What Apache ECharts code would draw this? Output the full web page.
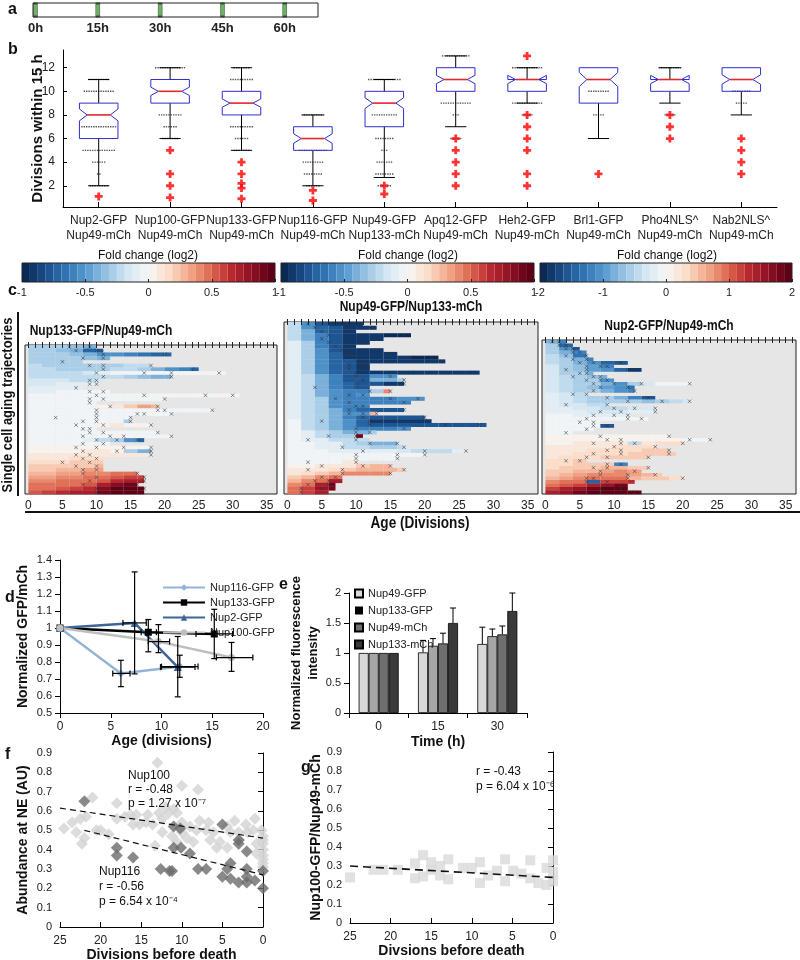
<!DOCTYPE html>
<html>
<head>
<meta charset="utf-8">
<script src="https://cdn.jsdelivr.net/npm/echarts@6/dist/echarts.min.js"></script>
<style>html,body{margin:0;padding:0;background:#fff}#c{width:800px;height:960px}</style>
</head>
<body>
<div id="c"></div>
<script>
var FF = 'Liberation Sans, Arial, Helvetica, sans-serif';

// ---- a: time line
var timeTicks = [0, 15, 30, 45, 60];

// ---- b: divisions within 15 h
var boxCats = ['Nup2-GFP\nNup49-mCh', 'Nup100-GFP\nNup49-mCh', 'Nup133-GFP\nNup49-mCh', 'Nup116-GFP\nNup49-mCh',
  'Nup49-GFP\nNup133-mCh', 'Apq12-GFP\nNup49-mCh', 'Heh2-GFP\nNup49-mCh', 'Brl1-GFP\nNup49-mCh',
  'Pho4NLS^\nNup49-mCh', 'Nab2NLS^\nNup49-mCh'];
// [cat, low whisker, q1, median, q3, high whisker, notch half height]
var boxStats = [
  [0, 2, 6, 8, 9, 11, 0.5],
  [1, 6, 9, 10, 11, 12, 0.35],
  [2, 5, 8, 9, 10, 12, 0.35],
  [3, 2, 5, 6, 7, 8, 0.4],
  [4, 2.7, 7, 9, 10, 11, 0.45],
  [5, 7, 10, 11, 12, 13, 0.35],
  [6, 9, 10, 11, 11, 12, 0.35],
  [7, 6, 9, 11, 12, 12, 0.6],
  [8, 9, 10, 11, 11, 12, 0.35],
  [9, 8, 10, 11, 12, 12, 0.4]
];
// [cat, level, number of cells]
var boxDots = [
  [0, 11, 9], [0, 10, 13], [0, 7, 15], [0, 5, 14], [0, 4, 6], [0, 3, 2], [0, 2, 8],
  [1, 12, 13], [1, 8, 10], [1, 7, 6], [1, 6, 7],
  [2, 12, 7], [2, 11, 10], [2, 7, 10], [2, 6, 6], [2, 5, 7],
  [3, 8, 10], [3, 5, 12], [3, 4, 9], [3, 3, 8], [3, 2, 6],
  [4, 11, 14], [4, 8, 11], [4, 6, 8], [4, 5, 3], [4, 4, 7], [4, 3, 8], [4, 2, 6],
  [5, 13, 12], [5, 9, 13], [5, 8, 3], [5, 6, 5],
  [6, 12, 13], [6, 9, 13], [6, 8, 5],
  [7, 10, 9], [7, 8, 5],
  [8, 12, 10], [8, 8, 5],
  [9, 10, 8], [9, 9, 5]
];
var boxOutliers = [
  [0, 1.1], [1, 5], [1, 3], [1, 2], [1, 1], [2, 4], [2, 3], [2, 2.2], [2, 1.8], [2, 0.9],
  [3, 1.6], [3, 0.75], [4, 2], [4, 1.3],
  [5, 6], [5, 5], [5, 4], [5, 3], [5, 2], [6, 13], [6, 8], [6, 7], [6, 6], [6, 5], [6, 3], [6, 2],
  [7, 3], [8, 8], [8, 7], [8, 6], [9, 6], [9, 5], [9, 4], [9, 3]
];

// ---- c: single cell trajectories, [death age, fold change per 2 divisions, x marks]
var heatLabels = [0, 5, 10, 15, 20, 25, 30, 35];
var heatTicks = [0,1,2,3,4,5,6,7,8,9,10,11,12,13,14,15,16,17,18,19,20,21,22,23,24,25,26,27,28,29,30,31,32,33,34,35,36];
var cmap = ['#0b2955', '#1b4f8c', '#2f75b5', '#5a9bd0', '#9cc6e3', '#d4e6f2', '#f7f7f7',
  '#fbdcc9', '#f3a88a', '#de6a52', '#bd2a30', '#900f24', '#5e0016'];
var p1Rows = [
  [10, [-.3, -.3, -.3, -.35, -.4], [6, 9]],
  [11, [-.3, -.3, -.35, -.4, -.7, -.8], [7, 10]],
  [21, [-.3, -.3, -.3, -.35, -.4, -.5, -.55, -.6, -.65, -.7, -.7], [11, 20]],
  [12, [-.25, -.25, -.3, -.3, -.35, -.4], [8, 11]],
  [8, [-.25, -.25, -.25, -.3], [5]],
  [18, [-.2, -.25, -.25, -.3, -.3, -.3, -.3, -.2, -.2], [9, 11, 18]],
  [25, [-.2, -.2, -.25, -.3, -.3, -.3, -.2, -.2, -.3, -.4, -.5, -.6, -.7], [11, 24]],
  [29, [-.2, -.2, -.2, -.2, -.15, -.1, -.05, 0, 0, .02, 0, 0, 0, 0, 0], [10, 17, 21, 28]],
  [21, [-.2, -.2, -.2, -.2, -.2, -.2, -.2, -.3, -.35, -.4, -.4], [11, 21]],
  [11, [-.15, -.15, -.15, -.2, -.2, -.15], [9, 10]],
  [10, [-.15, -.15, -.1, -.1, -.1], [9, 10]],
  [8, [-.1, -.1, -.1, -.1], [7]],
  [12, [-.1, -.1, -.05, -.05, -.05, -.05], [9, 11]],
  [31, [-.05, -.05, 0, 0, 0, 0, 0, 0, 0, 0, 0, 0, 0, 0, .02, .02], [10, 17, 26, 30]],
  [20, [0, 0, 0, 0, 0, 0, 0, 0, 0, 0], [9, 11, 20]],
  [10, [0, 0, 0, 0, 0], [9]],
  [19, [0, 0, 0, 0, 0, .05, .1, .2, .35, .3], [12, 19]],
  [27, [0, 0, 0, 0, 0, 0, 0, 0, 0, 0, 0, 0, 0, 0], [10, 19, 20, 27]],
  [21, [0, 0, 0, 0, 0, 0, 0, 0, 0, 0, 0], [10, 16, 17, 21]],
  [15, [0, 0, 0, 0, 0, 0, 0, -.05], [4, 10, 15]],
  [15, [0, 0, 0, 0, 0, 0, 0, -.3], [8, 10, 15]],
  [18, [0, 0, 0, 0, 0, .05, .1, .05, .05], [7, 11, 18]],
  [10, [0, 0, 0, 0, 0], [8, 9]],
  [19, [0, 0, 0, 0, 0, 0, 0, 0, 0, 0], [9, 11, 19]],
  [21, [0, 0, 0, 0, 0, 0, .05, .05, 0, 0, 0], [8, 12, 14, 21]],
  [17, [0, 0, 0, 0, -.1, -.2, -.3, -.5, -.7], [10, 13, 16]],
  [12, [0, 0, 0, 0, 0, 0], [8, 11]],
  [18, [.02, .02, .05, .05, .05, .05, .05, .05, .05], [7, 10, 14, 18]],
  [18, [.05, .05, .05, .05, .1, .1, .05, -.3, -.4], [8, 13, 18]],
  [18, [.1, .1, .1, .1, .1, .1, .1, .1, .1], [7, 9, 18]],
  [11, [.12, .12, .12, .15, .15, .15], [8, 10]],
  [11, [.15, .15, .15, .2, .2, .2], [5, 9]],
  [11, [.2, .2, .2, .25, .25, .3], [7, 10]],
  [11, [.25, .25, .3, .3, .35, .35], [8, 10]],
  [16, [.3, .3, .35, .35, .4, .4, .45, .5], [8, 16]],
  [17, [.35, .35, .4, .4, .45, .5, .55, .6, .6], [10, 17]],
  [17, [.4, .4, .45, .5, .5, .55, .65, .7, .7], [9, 17]],
  [16, [.45, .45, .5, .5, .55, .7, .85, .9], [8, 16]],
  [17, [.5, .5, .55, .6, .65, .85, .95, .95, .95], [10, 17]],
  [17, [.55, .6, .65, .7, .75, .9, 1, 1, 1], [10]]
];
var p2Rows = [
  [11, [-.2, -.5, -.8, -.9, -.9, -.9], [3, 10]],
  [13, [-.2, -.5, -.7, -.8, -.9, -.9, -.9], [4, 12]],
  [10, [-.2, -.4, -.7, -.8, -.9], [5, 9]],
  [18, [-.2, -.4, -.6, -.8, -.9, -.9, -.9, -.95, -.95], [6, 17]],
  [14, [-.2, -.4, -.6, -.8, -.9, -.9, -.9], [5, 13]],
  [12, [-.1, -.3, -.6, -.8, -.9, -.9], [6, 11]],
  [10, [-.1, -.3, -.6, -.8, -.9], [7, 9]],
  [14, [-.1, -.3, -.5, -.8, -.9, -.9, -.9], [8, 13]],
  [16, [-.1, -.3, -.5, -.7, -.9, -.9, -.9, -.9], [9, 15]],
  [22, [-.1, -.3, -.5, -.7, -.9, -.9, -.9, -.9, -.9, -.95, -.95], [10, 18, 21]],
  [23, [-.1, -.3, -.5, -.7, -.8, -.9, -.9, -.9, -.9, -.9, -.9, -.9], [11, 22]],
  [12, [-.1, -.3, -.5, -.7, -.8, -.9], [9, 11]],
  [12, [-.1, -.3, -.5, -.7, -.8, -.9], [9, 11]],
  [28, [-.1, -.3, -.5, -.7, -.8, -.9, -.9, -.9, -.9, -.9, -.9, -.9, -.9, -.9], [10, 18, 27]],
  [16, [-.1, -.2, -.4, -.6, -.8, -.8, -.5, -.5], [10, 15]],
  [17, [-.1, -.2, -.4, -.6, -.8, -.8, -.4, -.4, -.3], [11, 17]],
  [17, [-.1, -.2, -.4, -.6, -.7, -.8, -.8, -.9, -.9], [10, 17]],
  [12, [-.1, -.2, -.4, -.6, -.7, -.8], [4, 10]],
  [15, [-.1, -.2, -.4, -.5, -.6, -.6, -.3, .4], [12, 15]],
  [12, [-.1, -.2, -.4, -.5, -.6, -.5], [9, 11]],
  [20, [-.1, -.2, -.3, -.5, -.6, -.6, -.6, -.6, -.5, -.5], [7, 15, 19]],
  [18, [-.1, -.2, -.3, -.5, -.6, -.6, -.6, -.6, -.6], [9, 17]],
  [12, [-.1, -.2, -.3, -.5, -.6, -.6], [10, 11]],
  [17, [-.1, -.2, -.3, -.4, -.6, -.7, -.8, -.8, -.8], [9, 17]],
  [13, [-.1, -.2, -.3, -.4, -.5, -.5, .3], [9, 11, 13]],
  [20, [-.1, -.2, -.3, -.4, -.6, -.7, -.8, -.8, -.8, -.8], [11, 20]],
  [21, [-.05, -.2, -.3, -.4, -.5, -.7, -.9, -.9, -.9, -.9, -.9], [5, 12, 20]],
  [29, [-.05, -.2, -.3, -.4, -.5, -.7, -.8, -.8, -.8, -.8, -.8, -.8, -.8, -.8, -.8], [12, 23, 28]],
  [18, [-.05, -.2, -.3, -.4, -.5, -.6, -.6, -.6, -.5], [10, 17]],
  [13, [-.05, -.1, -.2, -.3, -.4, -.4, -.3], [10, 12]],
  [11, [-.05, -.1, -.2, -.3, -.3, .9], [6, 10]],
  [12, [-.05, -.1, -.1, -.2, -.2, -.2], [3, 10]],
  [16, [0, -.05, -.1, -.1, -.2, -.3, -.4, -.4], [12, 16]],
  [17, [0, -.05, -.1, -.1, -.2, -.2, -.3, -.3, -.2], [8, 17]],
  [26, [0, 0, -.05, -.1, -.1, -.1, -.1, -.1, -.15, -.2, -.2, -.2, -.1], [11, 20, 26]],
  [20, [0, 0, 0, -.05, -.05, -.05, 0, 0, 0, 0], [10, 16, 20]],
  [16, [0, 0, 0, 0, 0, 0, 0, 0], [10, 16]],
  [10, [0, 0, 0, 0, .1], [3, 10]],
  [15, [.05, .05, .1, .1, .1, .2, .3, .3], [5, 11, 15]],
  [17, [.1, .1, .1, .15, .2, .3, .3, .3, .2], [3, 8, 17]],
  [15, [.1, .15, .2, .3, .4, .4, .4, .4], [8, 15]],
  [8, [.2, .3, .4, .5], [5, 7]],
  [8, [.3, .4, .5, .7], [4, 6]],
  [7, [.4, .5, .7, .9], [3, 6]],
  [7, [.5, .6, .8, .9], [2, 5]],
  [6, [.5, .6, .7], [2]]
];
var p3Rows = [
  [3, [-.8, -1.2], [1, 2]],
  [4, [-.6, -1.4], [2, 3]],
  [5, [-.5, -1, -1.5], [3, 4]],
  [6, [-.5, -.8, -1.2], [4, 5]],
  [6, [-.4, -.7, -1.3], [3, 6]],
  [7, [-.4, -.6, -.8, -1.2], [4, 6]],
  [12, [-.4, -.6, -.8, -1, -1.4, -1.6], [5, 7, 11]],
  [10, [-.3, -.5, -.7, -.9, -1.2], [6, 8, 9]],
  [14, [-.3, -.5, -.7, -.9, -1.1, -1.4, -1.8], [3, 6, 12, 13]],
  [7, [-.3, -.5, -.6, -.8], [5, 6]],
  [9, [-.3, -.4, -.6, -.7, -.8], [4, 7, 8]],
  [10, [-.3, -.4, -.5, -.6, -1], [6, 8, 9]],
  [21, [-.3, -.4, -.5, -.6, -.8, -1, -.6, -.3, -.1, 0, 0], [7, 10, 14, 21]],
  [13, [-.3, -.4, -.5, -.7, -.9, -1.1, -1.3], [8, 12]],
  [13, [-.3, -.4, -.5, -.6, -.8, -1, -1.2], [7, 13]],
  [6, [-.2, -.3, -.4], [4, 6]],
  [16, [-.2, -.3, -.4, -.5, -.6, -.8, -1.2, -1.5], [9, 15]],
  [21, [-.2, -.3, -.4, -.5, -.5, -.5, -.6, -.7, -.6, -.4, -.3], [12, 17, 21]],
  [9, [-.2, -.3, -.3, -.4, -.4], [3, 9]],
  [16, [-.2, -.2, -.3, -.3, -.4, -.4, -.3, -.3], [10, 13, 16]],
  [16, [-.2, -.2, -.2, -.3, -.3, -.3, -.2, -.2], [8, 11, 16]],
  [12, [-.1, -.1, -.2, -.2, -.2, -.2], [7, 10, 12]],
  [15, [-.1, -.1, -.1, -.1, -.1, -.1, 0, 0], [6, 12, 14]],
  [8, [0, 0, 0, 0], [5, 7]],
  [10, [0, 0, 0, 0, -1.6], [7, 9]],
  [7, [0, 0, 0, 0], [6]],
  [4, [0, 0], [3]],
  [18, [.05, .05, .05, .1, .1, .1, .1, .1, .1], [8, 18]],
  [24, [.1, .1, .1, .1, .1, .1, .1, .05, .05, .05, 0, 0], [9, 11, 21, 24]],
  [20, [.1, .1, .15, .2, .2, .2, -.4, .2, .3, .3], [7, 11, 13, 20]],
  [16, [.15, .15, .2, .2, .25, .3, .3, .3], [10, 16]],
  [18, [.2, .2, .25, .3, .3, .3, .3, .4, .4], [9, 11, 18]],
  [19, [.2, .25, .3, .3, .3, .35, .4, .4, .4, .4], [7, 11, 18]],
  [15, [.25, .3, .3, .35, .4, .4, .4, .4], [6, 9, 15]],
  [6, [.3, .35, .4], [3, 5]],
  [12, [.3, .35, .4, .5, .5, -1.2], [9, 11]],
  [15, [.35, .4, .5, .5, .6, .6, .5, .5], [7, 9, 15]],
  [14, [.4, .5, .6, .6, .7, .8, .7], [8, 13]],
  [17, [.5, .6, .7, .8, .8, .8, .7, .6, .5], [8, 12, 16]],
  [20, [.6, .7, .8, .9, 1, 1, .6, .5, .4, .3], [6, 7, 12, 20]],
  [13, [.8, .9, 1, -1.4, 1.2, 1.2, 1.3], [6, 9]],
  [12, [1, 1.1, 1.2, 1.4, 1.6, 1.8], [9, 11]],
  [12, [1.2, 1.4, 1.6, 1.8, 1.9, 2], [8, 11]],
  [14, [1.4, 1.6, 1.8, 1.9, 2, 2, 2], [8, 13]]
];
var BIN = 2;

// ---- d: normalized GFP/mCh vs age; err = [xlo, xhi, ylo, yhi]
var dNup116 = [[0, 1], [6.0, 0.733], [11.8, 0.773]];
var dNup116Err = [[5.2, 6.9, 0.655, 0.81], [10.0, 13.6, 0.71, 0.84]];
var dNup133 = [[0, 1], [8.7, 0.975], [15.2, 0.965]];
var dNup133Err = [[8.0, 9.5, 0.86, 1.05], [13.4, 17.0, 0.82, 1.11]];
var dNup2 = [[0, 1], [7.35, 1.03], [11.6, 0.77]];
var dNup2Err = [[6.2, 8.5, 0.73, 1.33], [9.9, 13.3, 0.595, 0.95]];
var dNup100 = [[0, 1], [9.7, 0.92], [16.9, 0.826]];
var dNup100Err = [[8.7, 10.8, 0.855, 1.02], [15.4, 19.0, 0.745, 0.915]];

// ---- e: normalized fluorescence intensity
var eTimes = ['0', '15', '30'];
var eNup49G = [1, 1.01, 1.15], eNup49GErr = [1, 1.21, 1.43];
var eNup133G = [1, 1.12, 1.28], eNup133GErr = [1, 1.24, 1.40];
var eNup49M = [1, 1.16, 1.31], eNup49MErr = [1, 1.33, 1.45];
var eNup133M = [1, 1.50, 1.70], eNup133MErr = [1, 1.75, 2.0];

// ---- f: abundance at NE vs divisions before death
var fNup100 = [[13, 0.85], [10, 0.73], [8, 0.71], [21, 0.67], [18, 0.64], [24.5, 0.51], [23.5, 0.54],
  [23, 0.49], [22.3, 0.43], [22.5, 0.56], [21.8, 0.57], [22, 0.46], [20.5, 0.5], [20, 0.5], [18, 0.56],
  [17, 0.57], [16.3, 0.58], [15.6, 0.58], [15.2, 0.53], [14.4, 0.54], [14.2, 0.58], [13.6, 0.53],
  [13.3, 0.42], [12.8, 0.59], [12.4, 0.56], [12, 0.62], [11.6, 0.59], [11, 0.61], [10.6, 0.59],
  [12.4, 0.49], [11.2, 0.47], [10.6, 0.44], [10, 0.54], [10, 0.49], [9.4, 0.46], [8.6, 0.44],
  [8.2, 0.5], [7.8, 0.55], [6.7, 0.54], [6.1, 0.49], [5.7, 0.41], [6.5, 0.45], [5.3, 0.44],
  [4.4, 0.52], [4, 0.49], [4.4, 0.41], [3, 0.49], [2.9, 0.45], [2.1, 0.53], [1.9, 0.49], [1, 0.56],
  [1.2, 0.5], [0.2, 0.5], [0, 0.47], [0, 0.45], [0, 0.43], [0, 0.4], [0, 0.37], [0, 0.35], [0, 0.33],
  [0, 0.31], [0.8, 0.43], [0.8, 0.38], [3.5, 0.55], [7, 0.5], [9, 0.52], [16, 0.53], [19, 0.48]];
var fNup116 = [[22, 0.65], [18, 0.41], [18, 0.37], [16, 0.36], [12.6, 0.3], [11.5, 0.29], [11.2, 0.29],
  [11, 0.52], [10.2, 0.51], [11, 0.41], [10.1, 0.41], [9, 0.38], [8, 0.3], [7, 0.3], [5, 0.53],
  [5, 0.26], [4.4, 0.3], [4, 0.33], [4, 0.25], [3, 0.45], [3, 0.43], [3, 0.23], [2, 0.39], [2, 0.3],
  [2, 0.26], [2, 0.23], [1, 0.24], [0, 0.29], [0, 0.2]];
var fFit100 = [[25, 0.615], [0, 0.46]];
var fFit116 = [[22, 0.5], [0, 0.27]];

// ---- g: Nup100-GFP/Nup49-mCh vs divisions before death
var gRatio = [[25, 0.24], [22.1, 0.28], [20.9, 0.28], [19.1, 0.28], [17, 0.314], [17, 0.235], [16, 0.357],
  [16, 0.245], [15, 0.32], [15, 0.28], [13.9, 0.3], [13.9, 0.25], [12.9, 0.335], [12.9, 0.23],
  [11.1, 0.29], [10, 0.29], [9, 0.32], [9, 0.21], [8, 0.25], [6.9, 0.275], [5.9, 0.335], [5.9, 0.22],
  [4.9, 0.275], [3.9, 0.26], [2.8, 0.33], [2.8, 0.235], [1.8, 0.21], [0.8, 0.29], [0.8, 0.2],
  [0, 0.33], [0, 0.22], [0, 0.27]];
var gFit = [[25, 0.30], [0, 0.24]];

// ---------- helpers
function heatData(rows) {
  var out = [];
  rows.forEach(function (r, i) {
    r[1].forEach(function (v, k) {
      var s = k * BIN, e = Math.min(s + BIN, r[0]);
      if (e > s) out.push([s, i, v, e]);
    });
  });
  return out;
}
function heatMarks(rows) {
  var out = [];
  rows.forEach(function (r, i) { r[2].forEach(function (a) { out.push([a, i + 0.5]); }); });
  return out;
}
function errRows(pts, err) {
  return err.map(function (e, i) { var p = pts[i + 1]; return [p[0], p[1], e[0], e[1], e[2], e[3]]; });
}
function ln(x1, y1, x2, y2, w) {
  return { type: 'line', shape: { x1: x1, y1: y1, x2: x2, y2: y2 }, style: { stroke: '#000', lineWidth: w || 1 } };
}
function renderBox(params, api) {
  var c = api.value(0), lo = api.value(1), q1 = api.value(2), md = api.value(3),
    q3 = api.value(4), hi = api.value(5), nh = api.value(6);
  var xc = api.coord([c, md])[0];
  var half = api.size([1, 0])[0] * 0.27, ins = half * 0.4, cap = half * 0.55;
  function Y(v) { return api.coord([c, v])[1]; }
  var L = xc - half, R = xc + half, kids = [];
  if (hi > q3) { kids.push(ln(xc, Y(q3), xc, Y(hi))); kids.push(ln(xc - cap, Y(hi), xc + cap, Y(hi))); }
  if (lo < q1) { kids.push(ln(xc, Y(q1), xc, Y(lo))); kids.push(ln(xc - cap, Y(lo), xc + cap, Y(lo))); }
  kids.push({ type: 'polygon', shape: { points: [[L, Y(q1)], [L, Y(md - nh)], [L + ins, Y(md)], [L, Y(md + nh)], [L, Y(q3)],
    [R, Y(q3)], [R, Y(md + nh)], [R - ins, Y(md)], [R, Y(md - nh)], [R, Y(q1)]] },
    style: { fill: 'none', stroke: '#2f2fcf', lineWidth: 1 } });
  kids.push({ type: 'line', shape: { x1: L + ins, y1: Y(md), x2: R - ins, y2: Y(md) }, style: { stroke: '#e3262b', lineWidth: 1.6 } });
  return { type: 'group', children: kids };
}
function renderDots(params, api) {
  var c = api.value(0), lv = api.value(1), n = api.value(2);
  var p = api.coord([c, lv]), kids = [];
  for (var i = 0; i < n; i++) {
    kids.push({ type: 'rect', shape: { x: p[0] + (i - (n - 1) / 2) * 2.4 - 0.7, y: p[1] - 0.7, width: 1.4, height: 1.4 }, style: { fill: '#555' } });
  }
  return { type: 'group', children: kids };
}
function renderHeat(params, api) {
  var a = api.coord([api.value(0), api.value(1)]);
  var b = api.coord([api.value(3), api.value(1) + 1]);
  return { type: 'rect', shape: { x: a[0], y: a[1], width: b[0] - a[0], height: b[1] - a[1] + 0.3 },
    style: { fill: api.visual('color') } };
}
function renderXYErr(params, api) {
  var x = api.value(0), y = api.value(1);
  var p0 = api.coord([api.value(2), y]), p1 = api.coord([api.value(3), y]);
  var q0 = api.coord([x, api.value(4)]), q1 = api.coord([x, api.value(5)]);
  return { type: 'group', children: [
    ln(q0[0], q0[1], q1[0], q1[1], 1.2), ln(q0[0] - 3, q0[1], q0[0] + 3, q0[1], 1.2), ln(q1[0] - 3, q1[1], q1[0] + 3, q1[1], 1.2),
    ln(p0[0], p0[1], p1[0], p1[1], 1.2), ln(p0[0], p0[1] - 3, p0[0], p0[1] + 3, 1.2), ln(p1[0], p1[1] - 3, p1[0], p1[1] + 3, 1.2)
  ] };
}
function renderBarErr(params, api) {
  var c = api.value(0), s = api.value(1);
  var a = api.coord([c, api.value(3)]), b = api.coord([c, api.value(2)]);
  var x = a[0] + (s - 1.5) * 10;
  if (b[1] >= a[1] - 0.5) return null;
  return { type: 'group', children: [ln(x, a[1], x, b[1], 1), ln(x - 3, b[1], x + 3, b[1], 1)] };
}
function barErrData() {
  var sets = [[eNup49G, eNup49GErr], [eNup133G, eNup133GErr], [eNup49M, eNup49MErr], [eNup133M, eNup133MErr]];
  var out = [];
  sets.forEach(function (st, s) { st[0].forEach(function (v, c) { out.push([c, s, st[1][c], v]); }); });
  return out;
}

// ---------- axes helpers
var blackLine = { show: true, lineStyle: { color: '#000', width: 1 } };
var lab = { color: '#222', fontSize: 11, fontFamily: FF };
function valAxis(o) {
  var base = { type: 'value', splitLine: { show: false }, axisLine: blackLine, axisTick: { show: true, lineStyle: { color: '#000' } },
    axisLabel: lab, nameTextStyle: { fontFamily: FF, fontWeight: 'bold', fontSize: 14, color: '#111' }, nameLocation: 'middle' };
  for (var k in o) base[k] = o[k];
  return base;
}

var grids = [
  { left: 33, top: 3, width: 285, height: 14 },
  { left: 63, top: 50, width: 714, height: 157 },
  { left: 22, top: 263, width: 253, height: 19 },
  { left: 281, top: 263, width: 253, height: 19 },
  { left: 540, top: 263, width: 252, height: 19 },
  { left: 25, top: 345, width: 252, height: 149 },
  { left: 284, top: 322, width: 254, height: 172 },
  { left: 542, top: 340, width: 254, height: 154 },
  { left: 60, top: 560, width: 203, height: 153 },
  { left: 349, top: 593, width: 178, height: 120 },
  { left: 60, top: 753, width: 203, height: 174 },
  { left: 350, top: 752, width: 203, height: 171 }
];
grids.forEach(function (g, i) {
  g.outerBoundsMode = 'none';
  g.containLabel = false;
  if (i === 0 || (i >= 2 && i <= 7)) { g.show = true; g.borderColor = '#222'; g.borderWidth = 1; g.z = 10; g.backgroundColor = 'transparent'; }
  if (i >= 5 && i <= 7) { g.backgroundColor = '#e6e6e6'; g.z = 0; }
});

function heatX(gi, top) {
  return { type: 'value', gridIndex: gi, min: -0.5, max: 36.5, position: top ? 'top' : 'bottom', z: 10,
    splitLine: { show: false }, axisLine: { show: false },
    axisTick: { show: true, inside: true, length: 3, customValues: heatTicks, lineStyle: { color: '#222' } },
    axisLabel: top ? { show: false } : { color: '#222', fontSize: 12, fontFamily: FF, margin: 6, customValues: heatLabels } };
}
function cbX(gi, mn, mx, iv) {
  return { type: 'value', gridIndex: gi, min: mn, max: mx, interval: iv, z: 10, splitLine: { show: false }, axisLine: { show: false },
    axisTick: { show: true, inside: true, length: 3, lineStyle: { color: '#222' } },
    axisLabel: { color: '#222', fontSize: 11, fontFamily: FF, margin: 5 } };
}
function hiddenY(gi, mn, mx, inv) {
  return { type: 'value', gridIndex: gi, min: mn, max: mx, inverse: !!inv, show: false, splitLine: { show: false } };
}

var xAxes = [
  { type: 'value', gridIndex: 0, min: -0.6, max: 68, splitLine: { show: false }, axisLine: { show: false }, axisTick: { show: false },
    axisLabel: { customValues: timeTicks, formatter: '{value}h', fontWeight: 'bold', fontSize: 13, color: '#222', fontFamily: FF, margin: 5 } },
  { type: 'category', gridIndex: 1, data: boxCats, axisLine: blackLine,
    axisTick: { show: true, inside: true, alignWithLabel: true, length: 5, lineStyle: { color: '#000' } },
    axisLabel: { color: '#222', fontSize: 12, fontFamily: FF, lineHeight: 15, margin: 6, interval: 0 } },
  cbX(2, -1, 1, 0.5), cbX(3, -1, 1, 0.5), cbX(4, -2, 2, 1),
  heatX(5), heatX(6), heatX(7), heatX(5, true), heatX(6, true), heatX(7, true),
  valAxis({ gridIndex: 8, min: 0, max: 20, interval: 5, name: 'Age (divisions)', nameGap: 20, axisLabel: { color: '#222', fontSize: 12, fontFamily: FF } }),
  { type: 'category', gridIndex: 9, data: eTimes, axisLine: blackLine, axisTick: { show: true, lineStyle: { color: '#000' } },
    axisLabel: { color: '#222', fontSize: 12, fontFamily: FF }, name: 'Time (h)', nameLocation: 'middle', nameGap: 22,
    nameTextStyle: { fontFamily: FF, fontWeight: 'bold', fontSize: 14, color: '#111' } },
  valAxis({ gridIndex: 10, min: 0, max: 25, interval: 5, inverse: true, name: 'Divisions before death', nameGap: 20,
    axisTick: { show: true, inside: true, lineStyle: { color: '#000' } }, axisLabel: { color: '#222', fontSize: 12, fontFamily: FF } }),
  valAxis({ gridIndex: 11, min: 0, max: 25, interval: 5, inverse: true, name: 'Divsions before death', nameGap: 20,
    axisTick: { show: true, inside: true, lineStyle: { color: '#000' } }, axisLabel: { color: '#222', fontSize: 12, fontFamily: FF } })
];
var yAxes = [
  hiddenY(0, 0, 1),
  valAxis({ gridIndex: 1, min: 0.2, max: 13.5, name: 'Divisions within 15 h', nameGap: 18, nameMoveOverlap: false,
    nameTextStyle: { fontFamily: FF, fontWeight: 'bold', fontSize: 15, color: '#111' },
    axisTick: { show: true, inside: true, length: 4, customValues: [2, 4, 6, 8, 10, 12], lineStyle: { color: '#000' } },
    axisLabel: { color: '#222', fontSize: 12, fontFamily: FF, customValues: [2, 4, 6, 8, 10, 12] } }),
  hiddenY(2, 0, 1), hiddenY(3, 0, 1), hiddenY(4, 0, 1),
  hiddenY(5, 0, p1Rows.length, true), hiddenY(6, 0, p2Rows.length, true), hiddenY(7, 0, p3Rows.length, true),
  valAxis({ gridIndex: 8, min: 0.5, max: 1.4, interval: 0.1, name: 'Normalized GFP/mCh', nameGap: 30 }),
  valAxis({ gridIndex: 9, min: 0, max: 2, interval: 0.5, name: 'Normalized fluorescence\nintensity', nameGap: 27,
    nameTextStyle: { fontFamily: FF, fontWeight: 'bold', fontSize: 13, color: '#111', lineHeight: 17 } }),
  valAxis({ gridIndex: 10, min: 0, max: 0.9, interval: 0.1, name: 'Abundance at NE (AU)', nameGap: 30 }),
  valAxis({ gridIndex: 11, min: 0, max: 0.9, interval: 0.1, name: 'Nup100-GFP/Nup49-mCh', nameGap: 24 })
];

var plusPath = 'path://M2.6,0H5.4V2.6H8V5.4H5.4V8H2.6V5.4H0V2.6H2.6Z';
var crossPath = 'path://M0,0L10,10M10,0L0,10';

var series = [
  { type: 'scatter', xAxisIndex: 0, yAxisIndex: 0, silent: true, symbol: 'rect', symbolSize: [4, 13],
    data: timeTicks.map(function (t) { return [t, 0.5]; }), itemStyle: { color: '#4f9a45', borderColor: '#1d4a19', borderWidth: 1 } },
  { type: 'custom', xAxisIndex: 1, yAxisIndex: 1, renderItem: renderDots, data: boxDots, silent: true },
  { type: 'custom', xAxisIndex: 1, yAxisIndex: 1, renderItem: renderBox, data: boxStats, silent: true, z: 3 },
  { type: 'scatter', xAxisIndex: 1, yAxisIndex: 1, data: boxOutliers, symbol: plusPath, symbolSize: 8, silent: true, z: 4,
    itemStyle: { color: '#ff0000' } },
  { type: 'custom', xAxisIndex: 5, yAxisIndex: 5, renderItem: renderHeat, data: heatData(p1Rows), encode: { x: [0, 3], y: 1 }, silent: true },
  { type: 'custom', xAxisIndex: 6, yAxisIndex: 6, renderItem: renderHeat, data: heatData(p2Rows), encode: { x: [0, 3], y: 1 }, silent: true },
  { type: 'custom', xAxisIndex: 7, yAxisIndex: 7, renderItem: renderHeat, data: heatData(p3Rows), encode: { x: [0, 3], y: 1 }, silent: true }
];
[p1Rows, p2Rows, p3Rows].forEach(function (rows, k) {
  series.push({ type: 'scatter', xAxisIndex: 5 + k, yAxisIndex: 5 + k, data: heatMarks(rows), symbol: crossPath, symbolSize: 3.5,
    silent: true, z: 5, itemStyle: { color: 'rgba(0,0,0,0)', borderColor: '#333', borderWidth: 0.7 } });
});
var dSer = [
  ['Nup116-GFP', dNup116, '#95b3d7', 'diamond', 8],
  ['Nup133-GFP', dNup133, '#000000', 'rect', 7],
  ['Nup2-GFP', dNup2, '#3d6698', 'triangle', 8],
  ['Nup100-GFP', dNup100, '#bfbfbf', 'circle', 7]
];
dSer.forEach(function (d) {
  series.push({ name: d[0], type: 'line', xAxisIndex: 11, yAxisIndex: 8, data: d[1], symbol: d[3], symbolSize: d[4],
    lineStyle: { color: d[2], width: 2.5 }, itemStyle: { color: d[2] }, silent: true });
});
series.push({ type: 'custom', xAxisIndex: 11, yAxisIndex: 8, renderItem: renderXYErr, silent: true, z: 4,
  data: errRows(dNup116, dNup116Err).concat(errRows(dNup133, dNup133Err), errRows(dNup2, dNup2Err), errRows(dNup100, dNup100Err)) });
var eSer = [['Nup49-GFP', eNup49G, '#d9d9d9'], ['Nup133-GFP', eNup133G, '#a6a6a6'], ['Nup49-mCh', eNup49M, '#6f6f6f'], ['Nup133-mCh', eNup133M, '#3a3a3a']];
eSer.forEach(function (d) {
  series.push({ name: d[0], type: 'bar', xAxisIndex: 12, yAxisIndex: 9, data: d[1], barWidth: 10, barGap: '0%', silent: true,
    itemStyle: { color: d[2], borderColor: '#000', borderWidth: 0.8 } });
});
series.push({ type: 'custom', xAxisIndex: 12, yAxisIndex: 9, renderItem: renderBarErr, data: barErrData(), silent: true, z: 4 });
series.push(
  { type: 'scatter', xAxisIndex: 13, yAxisIndex: 10, data: fNup100, symbol: 'diamond', symbolSize: 12, silent: true, itemStyle: { color: '#d3d3d3' } },
  { type: 'scatter', xAxisIndex: 13, yAxisIndex: 10, data: fNup116, symbol: 'diamond', symbolSize: 12, silent: true, itemStyle: { color: '#6b6b6b' } },
  { type: 'line', xAxisIndex: 13, yAxisIndex: 10, data: fFit100, symbol: 'none', silent: true, z: 5, lineStyle: { color: '#111', width: 1.2, type: [6, 4] } },
  { type: 'line', xAxisIndex: 13, yAxisIndex: 10, data: fFit116, symbol: 'none', silent: true, z: 5, lineStyle: { color: '#111', width: 1.2, type: [6, 4] } },
  { type: 'scatter', xAxisIndex: 14, yAxisIndex: 11, data: gRatio, symbol: 'rect', symbolSize: 10, silent: true, itemStyle: { color: '#d9d9d9' } },
  { type: 'line', xAxisIndex: 14, yAxisIndex: 11, data: gFit, symbol: 'none', silent: true, z: 5, lineStyle: { color: '#111', width: 1.6, type: [8, 5] } }
);

function cbMap(idx, left, width, mn, mx) {
  return { type: 'piecewise', seriesIndex: [idx], dimension: 2, min: mn, max: mx, splitNumber: 32, orient: 'horizontal',
    left: left, top: 263, itemWidth: width / 32, itemHeight: 19, itemGap: 0, padding: 0, showLabel: false, itemSymbol: 'rect',
    selectedMode: false, hoverLink: false, inRange: { color: cmap }, outOfRange: { color: '#5e0016' } };
}

function txt(x, y, s, o) {
  o = o || {};
  var st = { text: s, x: 0, y: 0, fill: '#111', font: o.font || ('12px ' + FF), textAlign: o.align || 'left', textVerticalAlign: 'middle' };
  return { type: 'text', x: x, y: y, rotation: o.rot || 0, scaleX: o.sx || 1, style: st, z: 20, silent: true };
}
var B15 = 'bold 16px ' + FF;
var graphics = [
  txt(8, 10, 'a', { font: B15 }), txt(8, 50, 'b', { font: B15 }), txt(8, 291, 'c', { font: B15 }),
  txt(5, 598, 'd', { font: B15 }), txt(279, 585, 'e', { font: B15 }), txt(5, 755, 'f', { font: B15 }), txt(301, 768, 'g', { font: B15 }),
  txt(148, 256, 'Fold change (log2)', { align: 'center' }), txt(408, 256, 'Fold change (log2)', { align: 'center' }),
  txt(667, 256, 'Fold change (log2)', { align: 'center' }),
  txt(101, 331, 'Nup133-GFP/Nup49-mCh', { align: 'center', font: 'bold 15px ' + FF, sx: 0.8 }),
  txt(411, 307, 'Nup49-GFP/Nup133-mCh', { align: 'center', font: 'bold 15px ' + FF, sx: 0.8 }),
  txt(669, 326, 'Nup2-GFP/Nup49-mCh', { align: 'center', font: 'bold 15px ' + FF, sx: 0.8 }),
  txt(420, 524, 'Age (Divisions)', { align: 'center', font: 'bold 16px ' + FF, sx: 0.85 }),
  txt(8, 405, 'Single cell aging trajectories', { align: 'center', font: 'bold 15px ' + FF, rot: Math.PI / 2, sx: 0.86 }),
  { type: 'line', shape: { x1: 18, y1: 312, x2: 18, y2: 496 }, style: { stroke: '#111', lineWidth: 2 }, z: 20, silent: true },
  { type: 'line', shape: { x1: 25, y1: 512, x2: 800, y2: 512 }, style: { stroke: '#111', lineWidth: 2 }, z: 20, silent: true },
  txt(128, 776, 'Nup100'), txt(128, 790, 'r = -0.48'), txt(128, 804, 'p = 1.27 x 10\u207B\u2077'),
  txt(99, 872, 'Nup116'), txt(99, 887, 'r = -0.56'), txt(99, 902, 'p = 6.54 x 10\u207B\u2074'),
  txt(476, 772, 'r = -0.43'), txt(476, 787, 'p = 6.04 x 10\u207B\u2076')
];

var chart = echarts.init(document.getElementById('c'), null, { renderer: 'canvas' });
chart.setOption({
  animation: false,
  backgroundColor: '#fff',
  textStyle: { fontFamily: FF },
  grid: grids,
  xAxis: xAxes,
  yAxis: yAxes,
  visualMap: [cbMap(4, 22, 253, -1, 1), cbMap(5, 281, 253, -1, 1), cbMap(6, 540, 252, -2, 2)],
  legend: [
    { data: ['Nup116-GFP', 'Nup133-GFP', 'Nup2-GFP', 'Nup100-GFP'], orient: 'vertical', left: 162, top: 582, itemWidth: 42, itemHeight: 8,
      itemGap: 4, padding: 0, selectedMode: false, textStyle: { fontSize: 11, color: '#222', fontFamily: FF } },
    { data: ['Nup49-GFP', 'Nup133-GFP', 'Nup49-mCh', 'Nup133-mCh'], orient: 'vertical', left: 354, top: 588, itemWidth: 8, itemHeight: 8,
      itemGap: 6, padding: 0, selectedMode: false, icon: 'rect', textStyle: { fontSize: 11, color: '#222', fontFamily: FF } }
  ],
  graphic: graphics,
  series: series
});
</script>
</body>
</html>
